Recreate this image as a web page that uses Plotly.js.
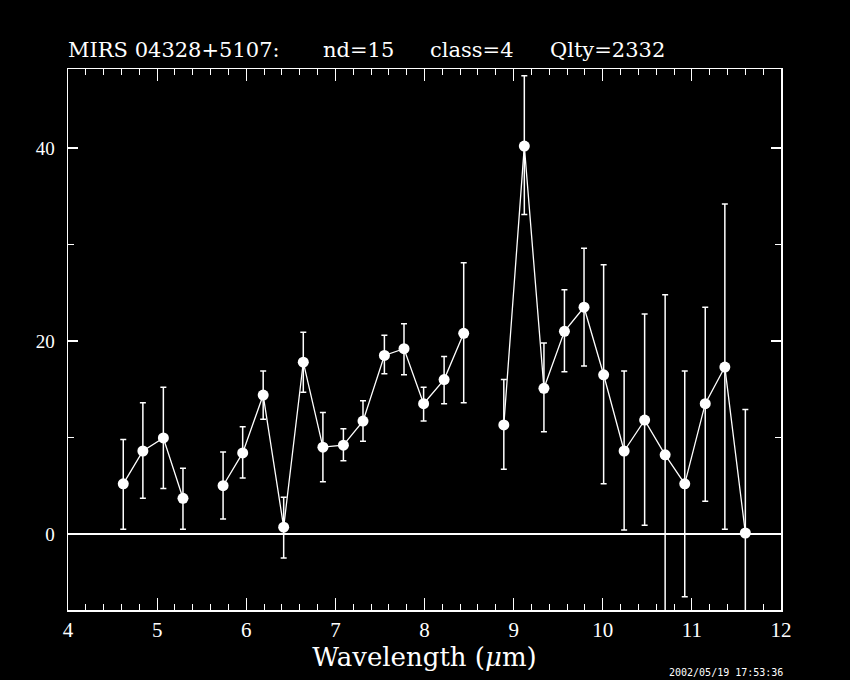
<!DOCTYPE html>
<html>
<head>
<meta charset="utf-8">
<script src="https://cdn.plot.ly/plotly-3.0.1.min.js"></script>
<style>html,body{margin:0;padding:0;background:#000;}#plot{width:850px;height:680px;}</style>
</head>
<body>
<div id="plot"></div>
<script>
const wavelength = [4.62, 4.84, 5.07, 5.29, 5.52, 5.74, 5.96, 6.19, 6.42, 6.64, 6.86, 7.09, 7.31, 7.55, 7.77, 7.99, 8.22, 8.44, 8.67, 8.89, 9.12, 9.34, 9.57, 9.79, 10.01, 10.24, 10.47, 10.70, 10.92, 11.15, 11.37, 11.60];
const flux =       [5.2, 8.6, 9.95, 3.7, null, 5.0, 8.4, 14.4, 0.7, 17.8, 9.0, 9.2, 11.7, 18.5, 19.2, 13.5, 16.0, 20.8, null, 11.3, 40.2, 15.1, 21.0, 23.5, 16.5, 8.6, 11.8, 8.2, 5.2, 13.5, 17.3, 0.1];
const errUpper =   [9.8, 13.6, 15.2, 6.8, null, 8.5, 11.1, 16.9, 3.8, 20.9, 12.6, 10.9, 13.8, 20.6, 21.8, 15.2, 18.4, 28.1, null, 16.0, 47.5, 19.8, 25.3, 29.6, 27.9, 16.9, 22.8, 24.8, 16.9, 23.5, 34.2, 12.9];
const errLower =   [0.5, 3.7, 4.7, 0.5, null, 1.55, 5.8, 11.9, -2.5, 14.7, 5.4, 7.6, 9.6, 16.6, 16.5, 11.7, 13.5, 13.6, null, 6.7, 33.1, 10.6, 16.8, 17.4, 5.2, 0.4, 0.9, -12, -6.5, 3.4, 0.5, -12];
const titleParts = ["MIRS 04328+5107:", "nd=15", "class=4", "Qlty=2332"];
const titlePartX = [68, 323, 430, 550];
const stamp = "2002/05/19 17:53:36";

const plus = flux.map((v,i)=> v===null ? null : errUpper[i]-v);
const minus = flux.map((v,i)=> v===null ? null : v-errLower[i]);

const trace = {
  x: wavelength, y: flux, type: 'scatter', mode: 'lines+markers',
  connectgaps: false,
  line: {color: '#ffffff', width: 1.3},
  marker: {color: '#ffffff', size: 11, symbol: 'circle'},
  error_y: {type: 'data', symmetric: false, array: plus, arrayminus: minus,
            color: '#ffffff', thickness: 1.5, width: 3},
  hoverinfo: 'skip'
};

const serif = 'DejaVu Serif, Liberation Serif, serif';
const L = 68, R = 69, T = 69, B = 70, W = 850, H = 680;
const plotW = W - L - R;

const annotations = titleParts.map((t, i) => ({
  text: t, xref: 'paper', yref: 'paper', x: (titlePartX[i] - L) / plotW, y: 1,
  xanchor: 'left', yanchor: 'bottom', yshift: 5, xshift: -2, showarrow: false,
  font: {family: serif, size: 21, color: '#fff'}
}));
annotations.push({text: stamp, xref: 'paper', yref: 'paper', x: (785 - L) / plotW, y: 0,
  xanchor: 'right', yanchor: 'top', yshift: -55, showarrow: false,
  font: {family: 'DejaVu Sans Mono, monospace', size: 10, color: '#fff'}});

const layout = {
  width: W, height: H,
  paper_bgcolor: '#000', plot_bgcolor: '#000',
  margin: {l: L, r: R, t: T, b: B},
  showlegend: false,
  font: {family: serif, color: '#fff', size: 18},
  xaxis: {
    range: [4, 12], dtick: 1, tick0: 4,
    showgrid: false, zeroline: false,
    showline: true, linecolor: '#fff', linewidth: 1.5, mirror: 'allticks',
    ticks: 'inside', ticklen: 12, tickwidth: 1.2, tickcolor: '#fff',
    tickfont: {family: 'Liberation Serif, serif', size: 21, color: '#fff'},
    minor: {dtick: 0.2, ticks: 'inside', ticklen: 6, tickwidth: 1, tickcolor: '#fff', showgrid: false},
    title: {text: 'Wavelength (<i>μ</i>m)', font: {family: serif, size: 26, color: '#fff'}, standoff: 6}
  },
  yaxis: {
    range: [-7.88, 48.19], dtick: 20, tick0: 0,
    showgrid: false, zeroline: true, zerolinecolor: '#fff', zerolinewidth: 2,
    showline: true, linecolor: '#fff', linewidth: 1.5, mirror: 'allticks',
    ticks: 'inside', ticklen: 10, tickwidth: 2, tickcolor: '#fff',
    ticklabelstandoff: 8,
    tickfont: {family: 'Liberation Serif, serif', size: 19, color: '#fff'},
    minor: {dtick: 10, ticks: 'inside', ticklen: 6, tickwidth: 1, tickcolor: '#fff', showgrid: false}
  },
  annotations: annotations
};

Plotly.newPlot('plot', [trace], layout, {staticPlot: true, displayModeBar: false});
</script>
</body>
</html>
